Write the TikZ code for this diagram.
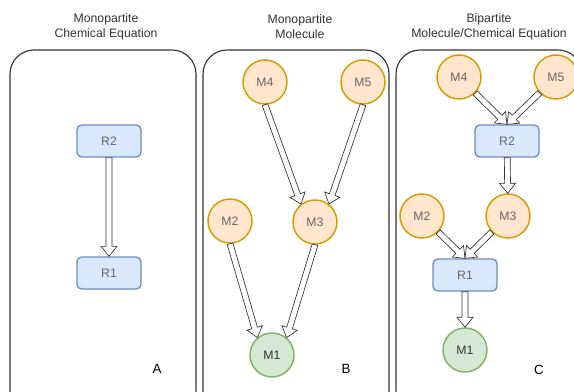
\documentclass[tikz,border=0pt]{standalone}
\usepackage{fontspec}
\setmainfont{Liberation Sans}
\usetikzlibrary{calc}
\usepackage{xcolor}
\definecolor{rfill}{HTML}{DAE8FC}
\definecolor{rline}{HTML}{6C8EBF}
\definecolor{mfill}{HTML}{FFE6CC}
\definecolor{mline}{HTML}{D79B00}
\definecolor{gfill}{HTML}{D5E8D4}
\definecolor{gline}{HTML}{82B366}
\definecolor{ink}{HTML}{333333}
\definecolor{soft}{HTML}{666666}

% hollow block arrow between two nodes / anchors
\newcommand{\flexarrow}[2]{%
	\path (#1) -- (#2) coordinate[pos=0] (fs) coordinate[pos=1] (fe);
	\draw[flexa] let \p1=($(fe)-(fs)$), \n1={atan2(\y1,\x1)} in
	($(fs)+(\n1+90:2.2pt)$) -- ($(fe)+(\n1+180:7.5pt)+(\n1+90:2.2pt)$)
	-- ($(fe)+(\n1+180:7.5pt)+(\n1+90:6pt)$) -- (fe)
	-- ($(fe)+(\n1+180:7.5pt)+(\n1-90:6pt)$) -- ($(fe)+(\n1+180:7.5pt)+(\n1-90:2.2pt)$)
	-- ($(fs)+(\n1-90:2.2pt)$) -- cycle;}

\begin{document}
\begin{tikzpicture}
		[x=0.75pt,y=-0.75pt,
		every node/.style={font=\fontsize{9.2}{11.2}\selectfont},
		panel/.style={draw=ink,line width=0.85pt,rounded corners=18pt},
		title/.style={align=center,text=ink},
		rxn/.style={rectangle,draw=rline,fill=rfill,line width=1pt,rounded corners=3.5pt,minimum width=48pt,minimum height=24pt,text=soft},
		mol/.style={circle,draw=mline,fill=mfill,line width=1.1pt,minimum size=33pt,inner sep=0pt,text=soft},
		prod/.style={circle,draw=gline,fill=gfill,line width=1.1pt,minimum size=33pt,inner sep=0pt,text=ink},
		tag/.style={text=black,font=\fontsize{10}{12}\selectfont},
		flexa/.style={draw=ink,fill=white,line width=0.5pt,line join=miter}]
		\useasboundingbox (0,0) rectangle (574,392);
		\clip (0,0) rectangle (574,392);
		
		\node[title] (ta) at (106,27) {Monopartite\\Chemical Equation};
		\node[title] (tb) at (300,27) {Monopartite\\Molecule};
		\node[title] (tc) at (489,27) {Bipartite\\Molecule/Chemical Equation};
		
		\draw[panel] (10,50) rectangle (196,415);
		\draw[panel] (203,50) rectangle (389,415);
		\draw[panel] (396,50) rectangle (582,415);
		
		% A
		\node[rxn] (ar2) at (109,141) {R2};
		\node[rxn] (ar1) at (109,273) {R1};
		\node[tag] (la) at (157,369) {A};
		
		% B
		\node[mol] (bm4) at (265,82) {M4};
		\node[mol] (bm5) at (363,82) {M5};
		\node[mol] (bm2) at (230,221) {M2};
		\node[mol] (bm3) at (315,222) {M3};
		\node[prod] (bm1) at (272,355) {M1};
		\node[tag] (lb) at (346,369) {B};
		
		% C
		\node[mol] (cm4) at (459,77) {M4};
		\node[mol] (cm5) at (556,77) {M5};
		\node[rxn] (cr2) at (507,141) {R2};
		\node[mol] (cm2) at (422,216) {M2};
		\node[mol] (cm3) at (508,216) {M3};
		\node[rxn] (cr1) at (465,275) {R1};
		\node[prod] (cm1) at (465,350) {M1};
		\node[tag] (lc) at (539,370) {C};
		
		\flexarrow{ar2}{ar1}
		
		\flexarrow{bm4.south}{bm3.128}
		\flexarrow{bm5.south}{bm3.52}
		\flexarrow{bm2.south}{bm1.130}
		\flexarrow{bm3.south}{bm1.50}
		
		\flexarrow{cm4}{cr2.north}
		\flexarrow{cm5}{cr2.north}
		\flexarrow{cr2}{cm3}
		\flexarrow{cm2}{cr1.north}
		\flexarrow{cm3}{cr1.north}
		\flexarrow{cr1}{cm1}
		
	\end{tikzpicture}
\end{document}
